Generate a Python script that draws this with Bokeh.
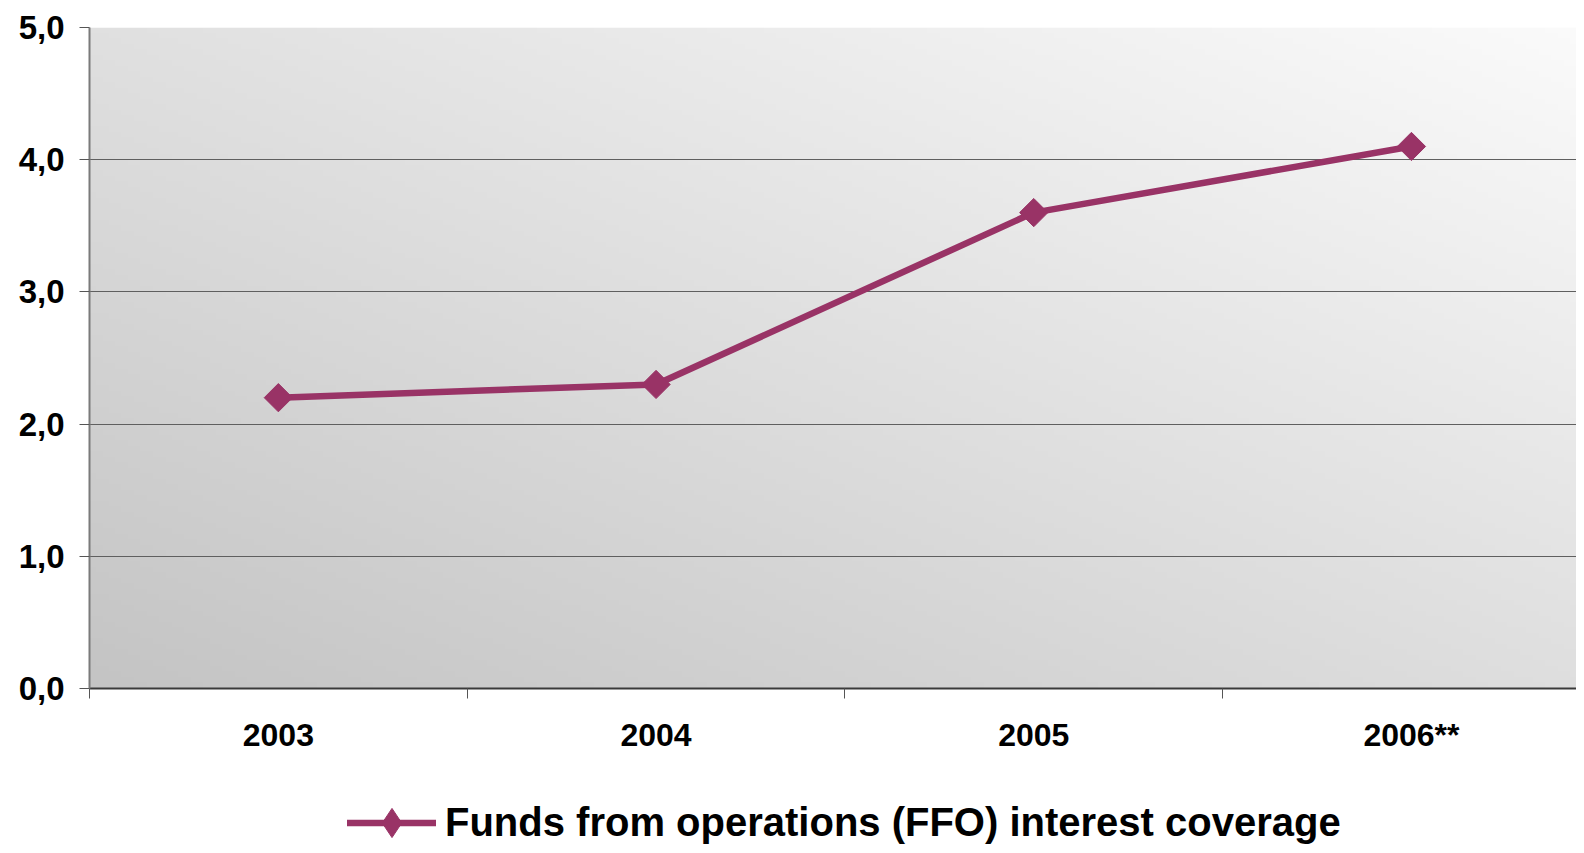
import numpy as np
from bokeh.plotting import figure
from bokeh.layouts import column
from bokeh.models import (Range1d, FixedTicker, Legend, LegendItem, ColumnDataSource)
from bokeh.embed import file_html
from bokeh.resources import INLINE

# ---- data ----
categories = ["2003", "2004", "2005", "2006**"]
ffo_coverage = [2.2, 2.3, 3.6, 4.1]
series_name = "Funds from operations (FFO) interest coverage"
y_ticks = [0, 1, 2, 3, 4, 5]
y_tick_labels = ["0,0", "1,0", "2,0", "3,0", "4,0", "5,0"]

FONT = "Liberation Sans"
LINE_COLOR = "#993366"
W = 1576

x_pos = [i + 0.5 for i in range(len(categories))]
x_max = (W - 89) / 377.7

p = figure(width=W, height=760, output_backend="svg", toolbar_location=None,
           x_range=Range1d(0, x_max), y_range=Range1d(0, 5),
           min_border_left=89, min_border_right=0, min_border_top=27,
           min_border_bottom=72)
p.outline_line_color = None
p.background_fill_color = "white"
p.border_fill_color = "white"

# gradient background for plot area
ny, nx = 120, 240
xn = np.linspace(0, 1, nx)[None, :]
yn = np.linspace(0, 1, ny)[:, None]
v = np.clip(196 + 27 * xn + 28 * yn, 0, 255).astype(np.uint32)
img = ((255 << 24) | (v << 16) | (v << 8) | v).astype(np.uint32)
bg = p.image_rgba(image=[img], x=0, y=0, dw=4, dh=5)
bg.level = "image"

# grid
p.xgrid.visible = False
p.ygrid.ticker = FixedTicker(ticks=[1, 2, 3, 4, 5])
p.ygrid.grid_line_color = "#5f5f5f"
p.ygrid.grid_line_width = 1

# axes
p.yaxis.ticker = FixedTicker(ticks=y_ticks)
p.yaxis.major_label_overrides = {t: l for t, l in zip(y_ticks, y_tick_labels)}
p.yaxis.axis_line_color = "#7a7a7a"
p.yaxis.axis_line_width = 2
p.yaxis.major_tick_line_color = "#555555"
p.yaxis.major_tick_out = 10
p.yaxis.major_tick_in = 0
p.yaxis.minor_tick_line_color = None
p.yaxis.major_label_text_font = FONT
p.yaxis.major_label_text_font_style = "bold"
p.yaxis.major_label_text_font_size = "33px"
p.yaxis.major_label_text_color = "black"
p.yaxis.major_label_standoff = 15

p.xaxis.ticker = FixedTicker(ticks=x_pos, minor_ticks=[0, 1, 2, 3])
p.xaxis.major_label_overrides = {x: c for x, c in zip(x_pos, categories)}
p.xaxis.axis_line_color = "#3a3a3a"
p.xaxis.axis_line_width = 2
p.xaxis.major_tick_line_color = None
p.xaxis.major_tick_out = 0
p.xaxis.major_tick_in = 0
p.xaxis.minor_tick_line_color = "#555555"
p.xaxis.minor_tick_out = 10
p.xaxis.minor_tick_in = 0
p.xaxis.major_label_text_font = FONT
p.xaxis.major_label_text_font_style = "bold"
p.xaxis.major_label_text_font_size = "32px"
p.xaxis.major_label_text_color = "black"
p.xaxis.major_label_standoff = 18

src = ColumnDataSource(dict(x=x_pos, y=ffo_coverage))
line_kw = dict(line_color=LINE_COLOR, line_width=6.5, line_cap="round", line_join="round")
p.line("x", "y", source=src, **line_kw)
p.scatter("x", "y", source=src, marker="square", angle=np.pi / 4, size=20,
          fill_color=LINE_COLOR, line_color=LINE_COLOR)

# legend strip below the chart (its glyphs share the data but lie outside its ranges)
p2 = figure(width=W, height=85, output_backend="svg", toolbar_location=None,
            x_range=Range1d(0, 1), y_range=Range1d(100, 101),
            x_axis_location=None, y_axis_location=None,
            min_border_left=0, min_border_right=0, min_border_top=0,
            min_border_bottom=0)
p2.outline_line_color = None
p2.xgrid.visible = False
p2.ygrid.visible = False
l2 = p2.line("x", "y", source=src, **line_kw)
m2 = p2.scatter("x", "y", source=src, marker="diamond", size=20,
                fill_color=LINE_COLOR, line_color=LINE_COLOR)

legend = Legend(items=[LegendItem(label=series_name, renderers=[l2, m2])],
                location=(258, -14), orientation="horizontal",
                glyph_width=89, glyph_height=73, label_height=40,
                label_standoff=9, padding=0, margin=0, spacing=0,
                border_line_color=None, background_fill_alpha=0)
legend.label_text_font = FONT
legend.label_text_font_style = "bold"
legend.label_text_font_size = "40px"
legend.label_text_color = "black"
p2.add_layout(legend, "center")

open("out.html", "w").write(file_html(column(p, p2, spacing=0), INLINE))
